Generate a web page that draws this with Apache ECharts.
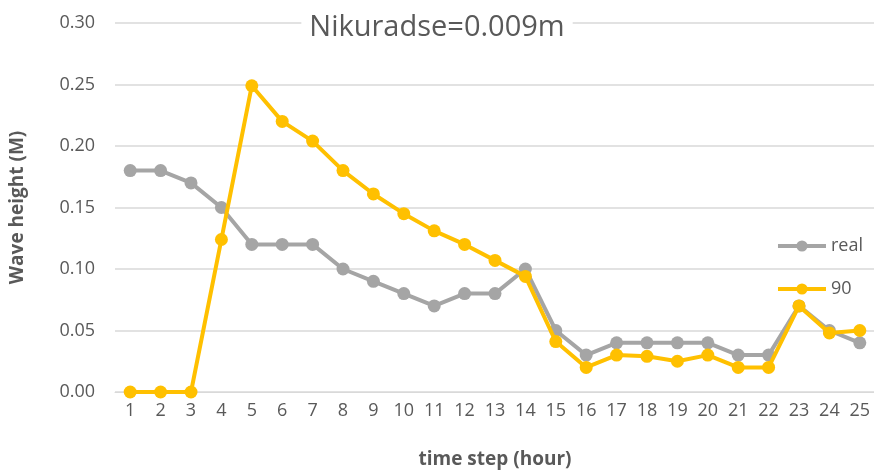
<!DOCTYPE html>
<html>
<head>
<meta charset="utf-8">
<script src="https://cdn.jsdelivr.net/npm/echarts@6/dist/echarts.min.js"></script>
<style>
  html, body { margin: 0; padding: 0; background: #fff; }
  #chart { width: 874px; height: 471px; }
</style>
</head>
<body>
<div id="chart"></div>
<script>
const timeSteps = ['1','2','3','4','5','6','7','8','9','10','11','12','13','14','15','16','17','18','19','20','21','22','23','24','25']
const realValues = [0.18, 0.18, 0.17, 0.15, 0.12, 0.12, 0.12, 0.10, 0.09, 0.08, 0.07, 0.08, 0.08, 0.10, 0.05, 0.03, 0.04, 0.04, 0.04, 0.04, 0.03, 0.03, 0.07, 0.05, 0.04]
const values90 = [0, 0, 0, 0.124, 0.249, 0.220, 0.204, 0.180, 0.161, 0.145, 0.131, 0.120, 0.107, 0.094, 0.041, 0.020, 0.030, 0.029, 0.025, 0.030, 0.020, 0.020, 0.070, 0.048, 0.050]

const chart = echarts.init(document.getElementById('chart'))

const font = 'Open Sans, Liberation Sans, sans-serif'
const textColor = '#595959'

const lineSeries = (name, data, color, z) => ({
  name,
  type: 'line',
  data,
  z,
  symbol: 'circle',
  symbolSize: 13,
  lineStyle: { color, width: 4 },
  itemStyle: { color },
  emphasis: { disabled: true }
})

chart.setOption({
  animation: false,
  title: {
    text: 'Nikuradse=0.009m',
    left: 'center',
    top: 11,
    padding: [2, 8],
    backgroundColor: '#fff',
    textStyle: { fontFamily: font, fontSize: 29, fontWeight: 'normal', color: textColor }
  },
  legend: {
    orient: 'vertical',
    right: 6,
    top: 232,
    itemWidth: 48,
    itemHeight: 14,
    itemGap: 25,
    lineStyle: { width: 4 },
    textStyle: { fontFamily: font, fontSize: 18, color: textColor },
    data: ['real', '90']
  },
  grid: { left: 115, right: -1, top: 23, bottom: 79, outerBoundsMode: 'none', containLabel: false },
  xAxis: {
    type: 'category',
    data: timeSteps,
    name: 'time step (hour)',
    nameLocation: 'middle',
    nameGap: 58,
    nameTextStyle: { fontFamily: font, fontSize: 19, fontWeight: 'bold', color: textColor },
    axisLine: { lineStyle: { color: '#d9d9d9' } },
    axisTick: { show: false },
    axisLabel: { fontFamily: font, fontSize: 18, color: textColor, margin: 10 }
  },
  yAxis: {
    type: 'value',
    min: 0,
    max: 0.30,
    interval: 0.05,
    name: 'Wave height (M)',
    nameLocation: 'middle',
    nameGap: 88,
    nameTextStyle: { fontFamily: font, fontSize: 19, fontWeight: 'bold', color: textColor },
    axisLabel: {
      fontFamily: font, fontSize: 18, color: textColor, margin: 20,
      formatter: v => v.toFixed(2)
    },
    splitLine: { lineStyle: { color: '#d9d9d9', width: 1.5 } }
  },
  series: [
    lineSeries('real', realValues, '#A5A5A5', 2),
    lineSeries('90', values90, '#FFC000', 3)
  ]
})
</script>
</body>
</html>
